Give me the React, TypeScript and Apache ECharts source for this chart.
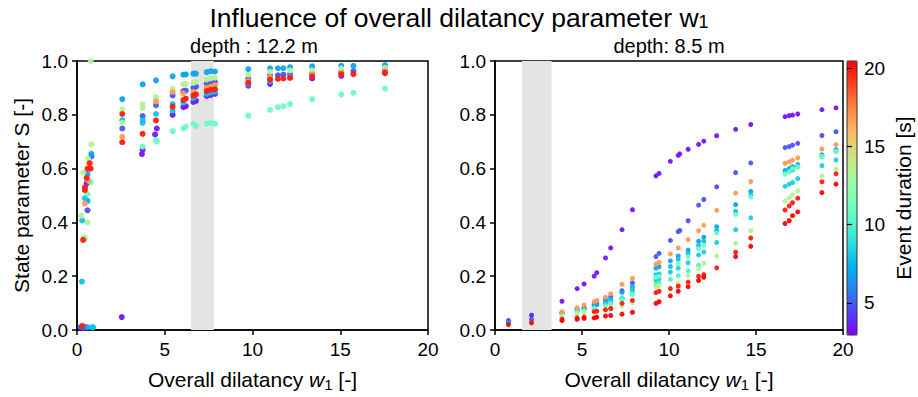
import React, { useEffect, useRef } from "react";
import * as echarts from "echarts";

const FONT = "'Liberation Sans', Arial, Helvetica, sans-serif";

// ---- axis / scale values ----
const X_MIN = 0;
const X_MAX = 20;
const X_INTERVAL = 5;
const Y_MIN = 0;
const Y_MAX = 1;
const Y_INTERVAL = 0.2;
const CBAR_MIN = 2.95;
const CBAR_MAX = 20.45;
const CBAR_TICKS = [5, 10, 15, 20];

// ---- shaded ranges of w1 ----
const LEFT_BAND = [6.5, 7.8];
const RIGHT_BAND = [1.55, 3.25];

// ---- event durations [s] of the groups of points ----
const D_PURPLE = 3.4;
const D_INDIGO = 4.8;
const D_BLUE = 6.8;
const D_CYAN = 7.8;
const D_TEAL = 10.0;
const D_MINT = 11.0;
const D_LGREEN = 13.5;
const D_ORANGE = 16.8;
const D_RED = 19.8;
const D_RED2 = 20.4;

// ---- left panel (depth 12.2 m): [w1, S] ----
const L_PURPLE = [[0.55,0.545],[0.4,0.01],[2.55,0.048],[3.74,0.67],[3.7,0.654],[4.55,0.749],[4.45,0.727],[5.45,0.8],[6.06,0.828],[6.2,0.832],[6.63,0.848],[6.78,0.852],[7.39,0.87],[7.62,0.874],[7.86,0.878],[9.76,0.908],[11.0,0.915],[13.4,0.935],[15.06,0.945],[17.55,0.955]];
const L_INDIGO = [[0.82,0.645],[0.6,0.445],[0.2,0.01],[0.5,0.01],[0.35,0.008],[2.58,0.749],[3.74,0.795],[4.5,0.836],[5.45,0.872],[6.06,0.888],[6.2,0.89],[6.63,0.9],[6.78,0.905],[7.39,0.916],[7.62,0.92],[7.86,0.922],[9.76,0.934],[11.0,0.947],[11.45,0.947],[11.76,0.949],[12.14,0.95],[13.4,0.953],[15.06,0.96],[15.75,0.962],[17.55,0.967]];
const L_BLUE = [[0.82,0.655],[0.6,0.58],[0.6,0.48],[0.6,0.01],[2.58,0.858],[3.74,0.913],[4.5,0.928],[5.45,0.943],[6.06,0.949],[6.2,0.95],[6.63,0.953],[6.78,0.953],[7.39,0.959],[7.62,0.962],[7.86,0.961],[9.76,0.97],[11.0,0.973],[11.45,0.973],[11.76,0.973],[12.14,0.977],[13.4,0.98],[15.06,0.982],[15.75,0.982],[17.55,0.985]];
const L_CYAN = [[0.45,0.49],[0.3,0.407],[0.28,0.18],[0.85,0.01],[0.92,0.01],[2.58,0.78],[3.74,0.779],[3.74,0.77],[4.5,0.803],[5.45,0.84],[5.45,0.815],[6.06,0.845],[6.63,0.862],[7.39,0.878],[7.62,0.883],[7.86,0.886],[9.76,0.915],[11.0,0.925],[12.14,0.94],[13.4,0.948],[15.06,0.955],[17.55,0.96]];
const L_MINT = [[0.78,0.55],[0.6,0.505],[0.45,0.34],[3.74,0.682],[4.5,0.706],[4.55,0.7],[5.45,0.739],[6.06,0.749],[6.2,0.755],[6.63,0.767],[6.78,0.758],[7.39,0.767],[7.62,0.77],[7.86,0.767],[9.76,0.797],[11.0,0.818],[11.45,0.828],[11.76,0.832],[12.14,0.84],[13.4,0.858],[15.06,0.876],[15.75,0.882],[17.55,0.897]];
const L_LGREEN = [[0.78,1.0],[0.82,0.69],[0.63,0.637],[0.35,0.585],[0.25,0.425],[0.6,0.4],[0.4,0.345],[2.58,0.82],[2.58,0.77],[3.74,0.84],[3.74,0.825],[4.5,0.866],[4.5,0.86],[5.45,0.897],[6.06,0.913],[6.2,0.915],[6.63,0.919],[6.78,0.922],[7.39,0.931],[7.62,0.935],[7.86,0.938],[9.76,0.949],[11.0,0.96],[12.14,0.965],[13.4,0.965],[15.06,0.972],[17.55,0.975]];
const L_ORANGE = [[0.65,0.555],[0.45,0.47],[2.58,0.718],[4.5,0.85],[5.45,0.885],[6.06,0.88],[6.63,0.885],[7.39,0.9],[7.62,0.905],[7.86,0.91],[9.76,0.925],[11.0,0.94],[13.4,0.948],[15.06,0.955],[17.55,0.962]];
const L_RED = [[0.72,0.62],[0.78,0.6],[0.6,0.6],[0.55,0.565],[0.45,0.53],[0.45,0.52],[0.35,0.335],[0.3,0.015],[2.58,0.803],[2.58,0.698],[3.74,0.729],[4.5,0.779],[5.45,0.83],[6.06,0.855],[6.2,0.86],[6.63,0.872],[6.78,0.876],[7.39,0.888],[7.62,0.893],[7.86,0.895],[9.76,0.919],[11.0,0.931],[11.45,0.933],[11.76,0.935],[12.14,0.937],[13.4,0.943],[15.06,0.951],[15.75,0.951],[17.55,0.957]];

// ---- right panel (depth 8.5 m): [w1, S] ----
const R_PURPLE = [[0.77,0.035],[2.1,0.055],[3.85,0.107],[4.72,0.154],[5.12,0.171],[5.7,0.2],[5.85,0.213],[6.35,0.268],[6.65,0.305],[7.3,0.373],[7.9,0.447],[9.25,0.573],[9.43,0.582],[10.08,0.627],[10.53,0.649],[10.62,0.655],[11.1,0.672],[11.7,0.69],[12.0,0.702],[12.74,0.722],[13.83,0.746],[14.7,0.764],[16.67,0.793],[16.91,0.797],[17.1,0.799],[17.4,0.803],[18.79,0.819],[19.6,0.826]];
const R_INDIGO = [[0.77,0.03],[2.1,0.04],[3.85,0.064],[4.72,0.078],[5.12,0.082],[5.7,0.096],[5.85,0.1],[6.35,0.113],[6.65,0.124],[7.3,0.146],[7.9,0.175],[9.25,0.273],[9.43,0.285],[10.08,0.333],[10.53,0.366],[10.62,0.37],[11.1,0.406],[11.7,0.464],[12.0,0.485],[12.74,0.532],[13.83,0.585],[14.7,0.621],[16.67,0.678],[16.91,0.682],[17.1,0.687],[17.4,0.694],[18.79,0.723],[19.6,0.737]];
const R_ORANGE = [[3.85,0.068],[4.72,0.083],[5.12,0.093],[5.7,0.105],[5.85,0.11],[6.35,0.122],[6.65,0.135],[7.3,0.17],[7.9,0.192],[9.25,0.245],[9.43,0.251],[10.08,0.283],[10.53,0.305],[11.1,0.336],[11.7,0.369],[12.0,0.389],[12.74,0.445],[13.83,0.509],[14.7,0.552],[16.67,0.62],[16.91,0.625],[17.1,0.631],[17.4,0.64],[18.79,0.673],[19.6,0.689]];
const R_BLUE = [[0.77,0.028],[3.85,0.062],[4.72,0.075],[5.12,0.08],[5.7,0.09],[5.85,0.094],[6.35,0.105],[6.65,0.115],[7.3,0.14],[7.9,0.162],[9.25,0.23],[9.43,0.235],[10.08,0.257],[10.53,0.275],[11.1,0.297],[11.7,0.33],[12.0,0.345],[12.74,0.384],[13.83,0.466],[14.7,0.515],[16.67,0.593],[16.91,0.6],[17.1,0.607],[17.4,0.615],[18.79,0.651],[19.6,0.67]];
const R_CYAN_UP = [[3.85,0.06],[4.72,0.072],[5.12,0.076],[5.7,0.085],[6.35,0.1],[6.65,0.108],[7.3,0.117],[7.9,0.155],[9.25,0.205],[9.43,0.208],[10.08,0.236],[10.53,0.263],[11.1,0.285],[11.7,0.314],[12.0,0.33],[12.74,0.37],[13.83,0.441],[14.7,0.5],[16.67,0.585],[16.91,0.59],[17.1,0.595],[17.4,0.607],[18.79,0.645],[19.6,0.664]];
const R_MINT = [[3.85,0.057],[4.72,0.067],[5.12,0.071],[5.7,0.08],[6.35,0.09],[6.65,0.098],[7.3,0.11],[7.9,0.132],[9.25,0.196],[9.43,0.2],[10.53,0.245],[11.1,0.273],[11.7,0.302],[12.0,0.315],[12.74,0.36],[13.83,0.429],[14.7,0.494],[16.67,0.58],[16.91,0.588],[17.1,0.6],[17.4,0.607],[18.79,0.645],[19.6,0.664]];
const R_CYAN_LOW = [[5.7,0.078],[6.35,0.095],[6.65,0.1],[7.3,0.117],[7.9,0.145],[9.25,0.185],[9.43,0.19],[10.08,0.215],[10.53,0.23],[11.1,0.25],[11.7,0.279],[12.0,0.29],[12.74,0.325],[13.83,0.373],[14.7,0.417],[16.67,0.534],[16.91,0.542],[17.1,0.548],[17.4,0.563],[18.79,0.611],[19.6,0.632]];
const R_TEAL = [[7.3,0.12],[7.9,0.132],[9.25,0.168],[9.43,0.175],[10.08,0.188],[10.53,0.202],[11.1,0.22],[11.7,0.241]];
const R_LGREEN = [[3.85,0.05],[4.72,0.06],[5.12,0.065],[5.7,0.07],[6.35,0.078],[6.65,0.081],[7.3,0.09],[7.9,0.101],[9.25,0.16],[9.43,0.165],[10.08,0.154],[10.53,0.172],[11.1,0.202],[11.7,0.227],[12.0,0.248],[12.74,0.275],[13.83,0.322],[14.7,0.369],[16.67,0.479],[16.91,0.491],[17.1,0.503],[17.4,0.518],[18.79,0.573],[19.6,0.599]];
const R_RED = [[3.85,0.04],[4.72,0.045],[5.12,0.048],[5.7,0.068],[5.85,0.07],[6.35,0.075],[6.65,0.08],[7.3,0.099],[7.9,0.11],[9.25,0.139],[9.43,0.144],[10.08,0.154],[10.53,0.163],[11.1,0.178],[11.7,0.2],[12.0,0.206],[12.74,0.231],[13.83,0.289],[14.7,0.342],[16.67,0.446],[16.91,0.461],[17.1,0.473],[17.4,0.49],[18.79,0.551],[19.6,0.581]];
const R_RED2 = [[0.77,0.02],[2.1,0.027],[3.85,0.035],[4.72,0.04],[5.12,0.043],[5.7,0.045],[5.85,0.048],[6.35,0.052],[6.65,0.054],[7.3,0.059],[7.9,0.066],[9.25,0.099],[9.43,0.105],[10.08,0.127],[10.53,0.144],[11.1,0.161],[11.7,0.184],[12.0,0.196],[13.83,0.273],[14.7,0.311],[16.67,0.396],[16.91,0.406],[17.1,0.425],[17.4,0.439],[18.79,0.511],[19.6,0.542]];

type Pt = number[];
const tag = (pts: Pt[], d: number) => pts.map((p) => [p[0], p[1], d]);

const LEFT_GROUPS: [Pt[], number][] = [
  [L_PURPLE, D_PURPLE], [L_INDIGO, D_INDIGO], [L_BLUE, D_BLUE], [L_CYAN, D_CYAN],
  [L_MINT, D_MINT], [L_LGREEN, D_LGREEN], [L_ORANGE, D_ORANGE], [L_RED, D_RED],
];
const RIGHT_GROUPS: [Pt[], number][] = [
  [R_PURPLE, D_PURPLE], [R_INDIGO, D_INDIGO], [R_BLUE, D_BLUE], [R_CYAN_UP, D_CYAN],
  [R_CYAN_LOW, D_CYAN + 0.4], [R_TEAL, D_TEAL], [R_MINT, D_MINT], [R_LGREEN, D_LGREEN],
  [R_ORANGE, D_ORANGE], [R_RED, D_RED], [R_RED2, D_RED2],
];

// matplotlib "rainbow" colormap
function rainbow(t: number) {
  const r = Math.min(1, Math.abs(2 * t - 0.5));
  const g = Math.sin(Math.PI * t);
  const b = Math.cos((Math.PI * t) / 2);
  const c = (v: number) => Math.round(Math.max(0, Math.min(1, v)) * 255);
  return `rgb(${c(r)},${c(g)},${c(b)})`;
}
const RAINBOW = Array.from({ length: 33 }, (_, i) => rainbow(i / 32));

const TICK_FS = 19;
const NAME_FS = 21;

export default function App() {
  const ref = useRef<HTMLDivElement>(null);
  useEffect(() => {
    if (!ref.current) return;
    const chart = echarts.init(ref.current, undefined, { renderer: "svg" });
    const leftData = LEFT_GROUPS.flatMap(([p, d]) => tag(p, d));
    const rightData = RIGHT_GROUPS.flatMap(([p, d]) => tag(p, d));

    const grids = [
      { left: 77, top: 61, width: 351, height: 274 },
      { left: 495, top: 61, width: 348, height: 274 },
    ];
    const axisCommon = {
      axisLine: { show: true, onZero: false, lineStyle: { color: "#000", width: 1.5 } },
      axisTick: { show: true, length: 5, lineStyle: { color: "#000", width: 1.5 } },
      splitLine: { show: false },
      axisLabel: { color: "#000", fontSize: TICK_FS, fontFamily: FONT },
    };
    const nameStyle = {
      color: "#000",
      fontSize: NAME_FS,
      fontFamily: FONT,
      rich: {
        i: { fontStyle: "italic", fontSize: NAME_FS, fontFamily: FONT, color: "#000" },
        s: { fontSize: 15, fontFamily: FONT, color: "#000", padding: [10, 0, 0, 0] },
      },
    };
    const xAxis = (gi: number) => ({
      ...axisCommon,
      type: "value",
      gridIndex: gi,
      min: X_MIN,
      max: X_MAX,
      interval: X_INTERVAL,
      axisLabel: { ...axisCommon.axisLabel, margin: 10 },
      name: "Overall dilatancy {i|w}{s|1} [-]",
      nameLocation: "middle",
      nameGap: 37,
      nameTextStyle: nameStyle,
    });
    const yAxis = (gi: number, name?: string) => ({
      ...axisCommon,
      type: "value",
      gridIndex: gi,
      min: Y_MIN,
      max: Y_MAX,
      interval: Y_INTERVAL,
      axisLabel: { ...axisCommon.axisLabel, margin: 9, formatter: (v: number) => v.toFixed(1) },
      name: name || "",
      nameLocation: "middle",
      nameGap: 45,
      nameRotate: 90,
      nameTextStyle: nameStyle,
    });

    const option: any = {
      animation: false,
      backgroundColor: "#fff",
      textStyle: { fontFamily: FONT },
      title: {
        text: "Influence of overall dilatancy parameter w{s|1}",
        left: "center",
        top: 4,
        padding: 0,
        textStyle: {
          color: "#000",
          fontSize: 26.5,
          lineHeight: 28,
          fontWeight: "normal",
          fontFamily: FONT,
          rich: { s: { fontSize: 18, fontFamily: FONT, color: "#000", padding: [8, 0, 0, 0] } },
        },
      },
      grid: [
        ...grids.map((g) => ({ ...g, show: true, borderColor: "#000", borderWidth: 1.5, backgroundColor: "transparent" })),
        { left: 847, top: 61, width: 10, height: 274, show: true, borderColor: "#333", borderWidth: 1, backgroundColor: "transparent", z: 10 },
      ],
      xAxis: [xAxis(0), xAxis(1), { type: "value", gridIndex: 2, show: false, min: 0, max: 1 }],
      yAxis: [
        yAxis(0, "State parameter S [-]"),
        yAxis(1),
        {
          type: "value",
          gridIndex: 2,
          position: "right",
          min: CBAR_MIN,
          max: CBAR_MAX,
          z: 10,
          axisLine: { show: false },
          splitLine: { show: false },
          axisTick: { show: true, customValues: CBAR_TICKS, length: 5, lineStyle: { color: "#000", width: 1.2 } },
          axisLabel: { show: true, customValues: CBAR_TICKS, color: "#000", fontSize: TICK_FS, fontFamily: FONT, margin: 7 },
          name: "Event duration [s]",
          nameLocation: "middle",
          nameRotate: 90,
          nameGap: 36,
          nameTextStyle: { color: "#000", fontSize: NAME_FS, fontFamily: FONT },
        },
      ],
      visualMap: {
        type: "continuous",
        min: CBAR_MIN,
        max: CBAR_MAX,
        dimension: 2,
        seriesIndex: [2, 3],
        inRange: { color: RAINBOW },
        left: 847,
        top: 61,
        itemWidth: 10,
        itemHeight: 274,
        padding: 0,
        calculable: false,
        hoverLink: false,
        text: null,
        showLabel: false,
      },
      graphic: [
        { type: "text", x: 254, y: 36, style: { text: "depth : 12.2 m", font: `20px ${FONT}`, fill: "#000", textAlign: "center" } },
        { type: "text", x: 669, y: 36, style: { text: "depth: 8.5 m", font: `20px ${FONT}`, fill: "#000", textAlign: "center" } },
      ],
      series: [
        {
          type: "scatter", xAxisIndex: 0, yAxisIndex: 0, data: [], z: 1, silent: true,
          markArea: { silent: true, itemStyle: { color: "#e4e4e4" }, data: [[{ xAxis: LEFT_BAND[0] }, { xAxis: LEFT_BAND[1] }]] },
        },
        {
          type: "scatter", xAxisIndex: 1, yAxisIndex: 1, data: [], z: 1, silent: true,
          markArea: { silent: true, itemStyle: { color: "#e4e4e4" }, data: [[{ xAxis: RIGHT_BAND[0] }, { xAxis: RIGHT_BAND[1] }]] },
        },
        { type: "scatter", xAxisIndex: 0, yAxisIndex: 0, data: leftData, symbolSize: 6, z: 3, itemStyle: { opacity: 0.95 } },
        { type: "scatter", xAxisIndex: 1, yAxisIndex: 1, data: rightData, symbolSize: 5, z: 3, itemStyle: { opacity: 0.95 } },
      ],
    };
    chart.setOption(option);
    return () => chart.dispose();
  }, []);
  return <div ref={ref} style={{ position: "fixed", left: 0, top: 0, width: 918, height: 397 }} />;
}
